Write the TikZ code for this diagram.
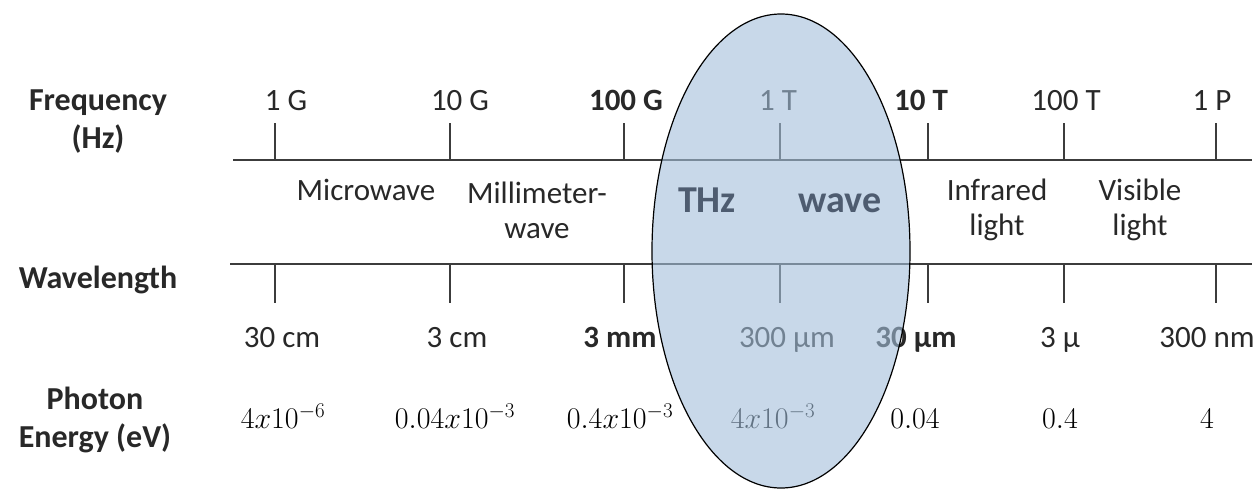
\RequirePackage{fix-cm}
\documentclass[tikz,border=0pt]{standalone}
\usepackage[no-math]{fontspec}
\setmainfont{Carlito}
\usetikzlibrary{positioning}
\definecolor{inkgray}{RGB}{40,40,40}
\definecolor{linegray}{RGB}{60,60,60}
\definecolor{thzfill}{RGB}{163,190,218}
\definecolor{thzink}{RGB}{78,92,112}

\begin{document}
\begin{tikzpicture}[x=1pt, y=-1pt,
    every node/.style={inner sep=0pt, text=inkgray, anchor=base},
    head/.style={font=\fontsize{32}{38}\selectfont\bfseries, align=center},
    band/.style={font=\fontsize{31}{35}\selectfont, align=center},
    ticklabel/.style={font=\fontsize{31}{36}\selectfont},
    energy/.style={font=\fontsize{30}{36}\selectfont, text=black},
    thz/.style={font=\fontsize{38}{44}\selectfont\bfseries, text=thzink},
    axis/.style={draw=linegray, line width=2.4pt},
    tickline/.style={draw=linegray, line width=2pt}]
  \useasboundingbox (0,0) rectangle (1259,488);

  % row headings (base = last line)
  \node[head] (hfreq) at (98,148) {Frequency\\(Hz)};
  \node[head] (hwave) at (98,288) {Wavelength};
  \node[head] (henergy) at (95,447) {Photon\\Energy (eV)};

  % the two axes
  \coordinate (fa) at (233,160);
  \coordinate (fb) at (1252,160);
  \coordinate (wa) at (230,264);
  \coordinate (wb) at (1252,264);
  \draw[axis] (fa) -- (fb);
  \draw[axis] (wa) -- (wb);

  % ticks, frequency, wavelength and energy values
  \foreach \t/\fx/\f/\wx/\w/\ex/\e [count=\i] in {
      275/286/1 G/282/30 cm/283/$4x10^{-6}$,
      450/460/10 G/457/3 cm/455/$0.04x10^{-3}$,
      624/626/\textbf{100 G}/620/\textbf{3 mm}/620/$0.4x10^{-3}$,
      780/778/1 T/787/300 µm/773/$4x10^{-3}$,
      928/921/\textbf{10 T}/916/\textbf{30 µm}/915/$0.04$,
      1064/1066/100 T/1060/3 µ/1060/$0.4$,
      1216/1212/1 P/1207/300 nm/1207/$4$}
  {
    \coordinate (ft\i) at (\t,160);
    \coordinate (wt\i) at (\t,264);
    \draw[tickline] (ft\i) -- ++(0,-37);
    \draw[tickline] (wt\i) -- ++(0,39);
    \node[ticklabel] (f\i) at (\fx,110) {\f};
    \node[ticklabel] (w\i) at (\wx,347) {\w};
    \node[energy] (e\i) at (\ex,428) {\e};
  }

  % bands
  \node[band] (micro) at (366,200) {Microwave};
  \node[band] (mmw) at (537,238) {Millimeter-\\wave};
  \node[band] (ir) at (997,235) {Infrared\\light};
  \node[band] (vis) at (1140,235) {Visible\\light};

  % THz window
  \draw[black, line width=1.2pt, fill=thzfill, fill opacity=0.6]
    (781,251) ellipse [x radius=129, y radius=237];
  \node[thz] (thzl) at (707,212) {THz};
  \node[thz] (thzr) at (840,212) {wave};
\end{tikzpicture}
\end{document}
